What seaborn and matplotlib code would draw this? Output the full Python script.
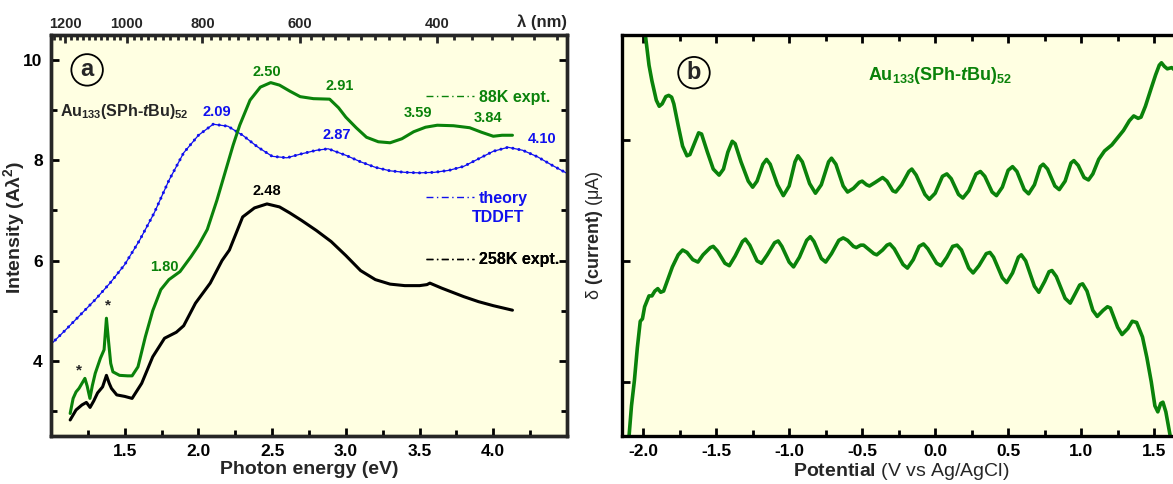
import matplotlib

matplotlib.use("Agg")
import matplotlib.pyplot as plt
from matplotlib.lines import Line2D
from matplotlib.ticker import FixedLocator, MultipleLocator, NullFormatter, FixedFormatter
import seaborn as sns
import numpy as np

# ---------------- panel a : optical absorption ----------------
green_E = [1.13, 1.15, 1.17, 1.19, 1.21, 1.23, 1.245, 1.264, 1.28, 1.30, 1.335, 1.36,
           1.376, 1.39, 1.405, 1.42, 1.465, 1.52, 1.55, 1.59, 1.64, 1.69, 1.745, 1.80,
           1.875, 1.95, 2.00, 2.06, 2.125, 2.18, 2.235, 2.28, 2.35, 2.42, 2.49, 2.55,
           2.62, 2.69, 2.78, 2.89, 2.95, 3.00, 3.07, 3.14, 3.22, 3.30, 3.38, 3.46,
           3.54, 3.62, 3.73, 3.84, 3.92, 4.00, 4.06, 4.13]
green_I = [2.95, 3.25, 3.38, 3.45, 3.55, 3.65, 3.50, 3.25, 3.50, 3.75, 4.05, 4.22,
           4.85, 4.40, 3.95, 3.78, 3.71, 3.70, 3.70, 3.88, 4.48, 5.00, 5.42, 5.62,
           5.78, 6.08, 6.30, 6.62, 7.20, 7.75, 8.30, 8.70, 9.20, 9.46, 9.55, 9.50,
           9.38, 9.27, 9.23, 9.22, 9.05, 8.86, 8.65, 8.46, 8.37, 8.35, 8.43, 8.57,
           8.66, 8.70, 8.69, 8.65, 8.56, 8.48, 8.50, 8.50]

black_E = [1.13, 1.17, 1.21, 1.24, 1.265, 1.29, 1.316, 1.35, 1.376, 1.395, 1.41, 1.446,
           1.50, 1.55, 1.615, 1.69, 1.77, 1.85, 1.90, 1.98, 2.08, 2.16, 2.21, 2.30,
           2.38, 2.465, 2.55, 2.62, 2.70, 2.80, 2.90, 3.00, 3.10, 3.20, 3.30, 3.40,
           3.50, 3.55, 3.57, 3.65, 3.80, 3.90, 4.00, 4.13]
black_I = [2.82, 3.02, 3.12, 3.17, 3.07, 3.20, 3.36, 3.48, 3.71, 3.55, 3.45, 3.32,
           3.29, 3.25, 3.55, 4.08, 4.45, 4.57, 4.70, 5.15, 5.55, 6.00, 6.21, 6.87,
           7.05, 7.13, 7.07, 6.95, 6.80, 6.60, 6.38, 6.10, 5.80, 5.62, 5.53, 5.50,
           5.50, 5.52, 5.55, 5.45, 5.28, 5.18, 5.10, 5.01]

theory_E = [1.0, 1.1, 1.2, 1.3, 1.4, 1.5, 1.6, 1.7, 1.8, 1.9, 2.0, 2.1, 2.2, 2.3, 2.4,
            2.5, 2.6, 2.7, 2.8, 2.88, 3.0, 3.1, 3.2, 3.3, 3.4, 3.5, 3.6, 3.7, 3.8,
            3.9, 4.0, 4.1, 4.2, 4.3, 4.4, 4.5]
theory_I = [4.33, 4.62, 4.92, 5.22, 5.55, 5.92, 6.40, 6.95, 7.60, 8.15, 8.50, 8.72,
            8.68, 8.50, 8.27, 8.08, 8.05, 8.13, 8.20, 8.23, 8.10, 7.97, 7.86, 7.79,
            7.76, 7.75, 7.76, 7.80, 7.88, 8.03, 8.18, 8.26, 8.20, 8.07, 7.90, 7.74]

wl_major = [1200, 1000, 800, 600, 400]
wl_minor = list(range(280, 1260, 20))

peak_text = ["2.50", "2.91", "3.59", "3.84", "1.80", "2.09", "2.87", "4.10", "2.48"]
peak_E = [2.465, 2.96, 3.49, 3.965, 1.77, 2.126, 2.94, 4.33, 2.465]
peak_I = [9.76, 9.48, 8.94, 8.84, 5.88, 8.96, 8.50, 8.42, 7.39]
peak_col = ["g", "g", "g", "g", "g", "b", "b", "b", "k"]
star_E = [1.187, 1.387]
star_I = [3.81, 5.11]

# ---------------- panel b : DPV ----------------
up_V = [-2.00, -1.985, -1.96, -1.94, -1.91, -1.89, -1.87, -1.845, -1.825, -1.805, -1.79,
        -1.76, -1.73, -1.70, -1.68, -1.65, -1.62, -1.60, -1.56, -1.52, -1.48, -1.45,
        -1.42, -1.39, -1.37, -1.33, -1.28, -1.25, -1.22, -1.18, -1.155, -1.13, -1.08,
        -1.04, -1.00, -0.96, -0.94, -0.91, -0.86, -0.82, -0.78, -0.73, -0.71, -0.68,
        -0.63, -0.60, -0.56, -0.52, -0.50, -0.47, -0.45, -0.41, -0.36, -0.33, -0.29,
        -0.27, -0.23, -0.18, -0.16, -0.13, -0.07, -0.04, 0.00, 0.05, 0.08, 0.11, 0.16,
        0.19, 0.23, 0.28, 0.31, 0.34, 0.39, 0.42, 0.46, 0.50, 0.53, 0.56, 0.61, 0.64,
        0.68, 0.72, 0.74, 0.77, 0.82, 0.85, 0.89, 0.93, 0.95, 0.98, 1.02, 1.05, 1.08,
        1.12, 1.16, 1.21, 1.25, 1.29, 1.33, 1.36, 1.39, 1.41, 1.44, 1.48, 1.51, 1.535,
        1.55, 1.57, 1.59, 1.62, 1.66]
up_I = [2.05, 1.87, 1.62, 1.49, 1.33, 1.28, 1.30, 1.36, 1.37, 1.355, 1.30,
        1.12, 0.95, 0.87, 0.88, 0.97, 1.06, 1.05, 0.90, 0.76, 0.71, 0.76,
        0.90, 0.99, 0.97, 0.82, 0.66, 0.61, 0.66, 0.80, 0.84, 0.80, 0.63,
        0.54, 0.62, 0.82, 0.87, 0.82, 0.64, 0.56, 0.63, 0.82, 0.85, 0.80,
        0.62, 0.57, 0.60, 0.65, 0.66, 0.63, 0.62, 0.65, 0.69, 0.66, 0.58,
        0.57, 0.63, 0.74, 0.76, 0.71, 0.55, 0.51, 0.56, 0.70, 0.72, 0.68, 0.55,
        0.52, 0.58, 0.72, 0.74, 0.70, 0.57, 0.54, 0.61, 0.75, 0.78, 0.74, 0.59, 0.555,
        0.63, 0.78, 0.80, 0.76, 0.62, 0.59, 0.66, 0.81, 0.83, 0.79, 0.69, 0.67, 0.72,
        0.84, 0.91, 0.96, 1.02, 1.08, 1.16, 1.20, 1.18, 1.19, 1.28, 1.43, 1.54, 1.62,
        1.64, 1.61, 1.59, 1.60, 1.56]

low_V = [-2.10, -2.08, -2.06, -2.04, -2.02, -2.005, -1.99, -1.96, -1.94, -1.92, -1.90,
         -1.88, -1.86, -1.83, -1.80, -1.76, -1.73, -1.70, -1.66, -1.625, -1.59, -1.54,
         -1.52, -1.49, -1.44, -1.41, -1.37, -1.32, -1.30, -1.27, -1.22, -1.19, -1.15,
         -1.10, -1.075, -1.05, -1.00, -0.97, -0.93, -0.88, -0.855, -0.83, -0.78, -0.75,
         -0.71, -0.66, -0.63, -0.60, -0.56, -0.54, -0.51, -0.49, -0.46, -0.42, -0.40,
         -0.36, -0.33, -0.31, -0.28, -0.22, -0.19, -0.15, -0.11, -0.08, -0.05, 0.01,
         0.04, 0.08, 0.12, 0.15, 0.18, 0.23, 0.26, 0.30, 0.35, 0.375, 0.40, 0.46, 0.49,
         0.53, 0.57, 0.59, 0.62, 0.68, 0.71, 0.75, 0.78, 0.80, 0.83, 0.89, 0.925, 0.96,
         0.99, 1.01, 1.04, 1.08, 1.11, 1.15, 1.18, 1.20, 1.25, 1.28, 1.32, 1.35, 1.38,
         1.42, 1.45, 1.48, 1.505, 1.525, 1.545, 1.56, 1.58, 1.61, 1.63]
low_I = [-1.50, -1.20, -0.99, -0.72, -0.50, -0.48, -0.38, -0.29, -0.29, -0.25, -0.23,
         -0.26, -0.25, -0.15, -0.05, 0.05, 0.09, 0.07, 0.01, -0.01, 0.05, 0.11,
         0.12, 0.08, -0.02, -0.04, 0.04, 0.16, 0.18, 0.13, 0.00, -0.02, 0.05,
         0.15, 0.165, 0.12, -0.01, -0.05, 0.03, 0.17, 0.20, 0.16, 0.02, -0.01,
         0.06, 0.17, 0.19, 0.17, 0.12, 0.11, 0.13, 0.13, 0.10, 0.06, 0.05,
         0.09, 0.13, 0.14, 0.10, -0.03, -0.06, 0.01, 0.12, 0.14, 0.10, -0.02,
         -0.04, 0.03, 0.12, 0.13, 0.09, -0.06, -0.10, -0.04, 0.06, 0.07, 0.03, -0.14, -0.18,
         -0.10, 0.03, 0.05, 0.00, -0.21, -0.26, -0.17, -0.09, -0.08, -0.13, -0.31, -0.35, -0.27,
         -0.20, -0.19, -0.25, -0.41, -0.46, -0.41, -0.38, -0.39, -0.55, -0.61, -0.56, -0.50, -0.51,
         -0.63, -0.80, -1.00, -1.20, -1.25, -1.18, -1.17, -1.25, -1.45, -1.60]

GREEN = "#0a820a"
BLUE = "#1010ee"
BG = "#ffffe2"

sns.set_style("ticks")
plt.rcParams["font.family"] = ["Liberation Sans", "DejaVu Sans"]
plt.rcParams["mathtext.fontset"] = "custom"
plt.rcParams["mathtext.rm"] = "Liberation Sans"
plt.rcParams["mathtext.it"] = "Liberation Sans:italic"
plt.rcParams["mathtext.bf"] = "Liberation Sans:bold"
plt.rcParams["mathtext.bfit"] = "Liberation Sans:italic:bold"
plt.rcParams["mathtext.default"] = "bf"

fig = plt.figure(figsize=(11.73, 4.84), dpi=100)
W, H = 1173, 484
ax = fig.add_axes([51 / W, (H - 436) / H, 516 / W, 401 / H])
bx = fig.add_axes([622 / W, (H - 436) / H, 558 / W, 401 / H])


def style_axes(a):
    a.set_facecolor(BG)
    for s in a.spines.values():
        s.set_linewidth(2.4)
        s.set_color("black")
    a.tick_params(which="both", direction="in", width=2.0, colors="black")
    a.tick_params(which="major", length=6, labelsize=12.5, pad=6)
    a.tick_params(which="minor", length=4)
    for lab in a.get_xticklabels() + a.get_yticklabels():
        lab.set_fontweight("bold")


# ---- panel a ----
sns.lineplot(x=theory_E, y=theory_I, ax=ax, color=BLUE, lw=0.9)
ax.plot(theory_E, theory_I, color=BLUE, lw=2.2, linestyle=(0, (0.01, 2.0)),
        dash_capstyle="round")
sns.lineplot(x=black_E, y=black_I, ax=ax, color="black", lw=2.2)
sns.lineplot(x=green_E, y=green_I, ax=ax, color=GREEN, lw=2.2)

ax.set_xlim(1.0, 4.5)
ax.set_ylim(2.5, 10.5)
ax.xaxis.set_major_locator(FixedLocator([1.5, 2.0, 2.5, 3.0, 3.5, 4.0]))
ax.xaxis.set_minor_locator(MultipleLocator(0.25))
ax.yaxis.set_major_locator(MultipleLocator(2))
ax.yaxis.set_minor_locator(MultipleLocator(1))
ax.tick_params(which="both", right=True)
style_axes(ax)
ax.set_xlabel("Photon energy (eV)", fontsize=14, fontweight="bold", labelpad=1)
ax.set_ylabel("Intensity (Aλ$^{2}$)", fontsize=14, fontweight="bold")
ax.yaxis.set_label_coords(-0.047, 0.52)

top = ax.twiny()
top.set_xscale("log")
top.set_xlim(1252, 272)
top.xaxis.set_major_locator(FixedLocator(wl_major))
top.xaxis.set_major_formatter(FixedFormatter([str(w) for w in wl_major]))
top.xaxis.set_minor_locator(FixedLocator(wl_minor))
top.xaxis.set_minor_formatter(NullFormatter())
top.tick_params(which="both", direction="in", width=2.0)
top.tick_params(which="major", length=6, labelsize=10.5, pad=3)
top.tick_params(which="minor", length=3.5)
for lab in top.get_xticklabels():
    lab.set_fontweight("bold")
for s in top.spines.values():
    s.set_linewidth(2.4)
top.text(1.0, 1.032, "λ (nm)", transform=ax.transAxes, ha="right", va="center",
         fontsize=12, fontweight="bold")

colmap = {"g": GREEN, "b": BLUE, "k": "black"}
for t, e, i, c in zip(peak_text, peak_E, peak_I, peak_col):
    ax.text(e, i, t, color=colmap[c], fontsize=10.5, fontweight="bold",
            ha="center", va="center")
for e, i in zip(star_E, star_I):
    ax.text(e, i, "*", fontsize=11, fontweight="bold", ha="center", va="center")

ax.text(0.017, 0.808, r"Au$_{133}$(SPh-$\mathbfit{t}$Bu)$_{52}$", transform=ax.transAxes,
        fontsize=11.5, fontweight="bold", ha="left", va="center")
ax.text(0.07, 0.913, "a", transform=ax.transAxes, fontsize=17, fontweight="bold",
        ha="center", va="center",
        bbox=dict(boxstyle="circle,pad=0.18", fc="none", ec="black", lw=1.3))


def mini_legend(a, color, label, y):
    h = Line2D([], [], color=color, lw=1.0, linestyle=(0, (5, 2.5, 1, 2.5)))
    leg = a.legend(handles=[h], labels=[label], loc="center left",
                   bbox_to_anchor=(0.715, y), frameon=False, handlelength=3.0,
                   handletextpad=0.3, borderaxespad=0,
                   prop={"weight": "bold", "size": 11.5})
    leg.get_texts()[0].set_color(color)
    a.add_artist(leg)


mini_legend(ax, GREEN, "88K expt.", 0.845)
mini_legend(ax, BLUE, "theory", 0.593)
mini_legend(ax, "black", "258K expt.", 0.439)
ax.text(0.816, 0.544, "TDDFT", transform=ax.transAxes, color=BLUE, fontsize=11.5,
        fontweight="bold", ha="left", va="center")

# ---- panel b ----
sns.lineplot(x=up_V, y=up_I, ax=bx, color=GREEN, lw=2.6, sort=False)
sns.lineplot(x=low_V, y=low_I, ax=bx, color=GREEN, lw=2.6, sort=False)
bx.set_xlim(-2.145, 1.677)
bx.set_ylim(-1.45, 1.87)
bx.xaxis.set_major_locator(MultipleLocator(0.5))
bx.xaxis.set_minor_locator(MultipleLocator(0.25))
bx.xaxis.set_major_formatter(plt.FuncFormatter(lambda v, p: f"{v:.1f}".replace("-0.0", "0.0")))
bx.yaxis.set_major_locator(FixedLocator([-1, 0, 1]))
bx.yaxis.set_major_formatter(NullFormatter())
bx.tick_params(which="both", top=True)
style_axes(bx)
bx.set_xlabel(r"$\mathbf{Potential}$ (V vs Ag/AgCl)", fontsize=14, labelpad=1)
bx.set_ylabel(r"δ $\mathbf{(current)}$ (μA)", fontsize=13)
bx.yaxis.set_label_coords(-0.031, 0.5)
bx.text(0.129, 0.906, "b", transform=bx.transAxes, fontsize=17, fontweight="bold",
        ha="center", va="center",
        bbox=dict(boxstyle="circle,pad=0.18", fc="none", ec="black", lw=1.3))
bx.text(0.57, 0.900, r"Au$_{133}$(SPh-$\mathbfit{t}$Bu)$_{52}$", transform=bx.transAxes,
        color=GREEN, fontsize=13, fontweight="bold", ha="center", va="center")

fig.savefig("out.png", dpi=100, facecolor="white")
